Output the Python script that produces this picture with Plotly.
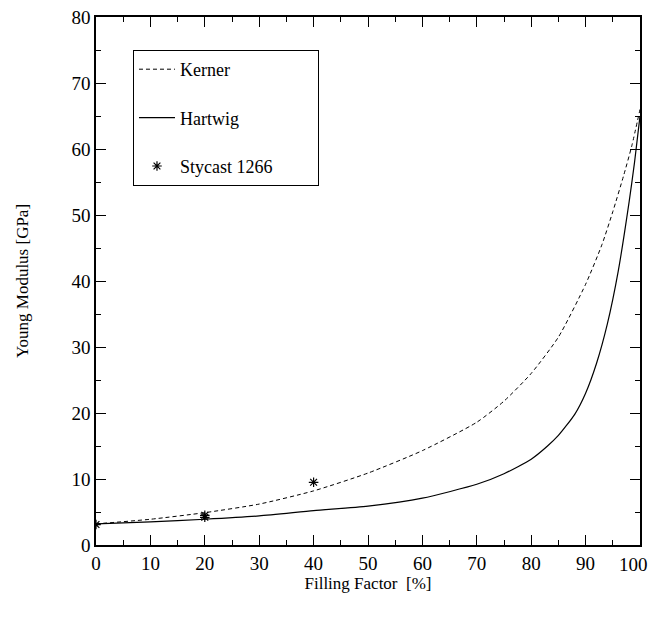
import plotly.graph_objects as go

# Kerner model curve
kerner_x = [0, 10, 20, 30, 40, 50, 60, 70, 75, 80, 85, 90, 93, 95, 97, 98.5, 100]
kerner_y = [3.2, 3.9, 4.9, 6.2, 8.2, 10.9, 14.3, 18.6, 21.8, 26.0, 31.5, 39.5, 45.5, 50.5, 56.0, 60.5, 66.0]

# Hartwig model curve
hartwig_x = [0, 10, 20, 30, 40, 50, 60, 70, 75, 80, 83, 85, 88, 90, 92, 94, 96, 98, 99, 100]
hartwig_y = [3.2, 3.5, 3.9, 4.4, 5.2, 5.9, 7.1, 9.2, 10.8, 13.0, 15.0, 16.6, 19.8, 23.0, 27.5, 33.5, 41.5, 52.0, 58.0, 65.0]

# Stycast 1266 measurements
stycast_x = [0, 20, 20, 40]
stycast_y = [3.1, 4.2, 4.5, 9.5]

x_ticks = [0, 10, 20, 30, 40, 50, 60, 70, 80, 90, 100]
y_ticks = [0, 10, 20, 30, 40, 50, 60, 70, 80]

font_family = "Liberation Serif, Times New Roman, serif"

fig = go.Figure()
fig.add_trace(go.Scatter(x=kerner_x, y=kerner_y, mode="lines", name="Kerner",
                         line=dict(color="black", width=1, dash="4px,3px", shape="spline", smoothing=0.6),
                         legendgroup="a"))
fig.add_trace(go.Scatter(x=hartwig_x, y=hartwig_y, mode="lines", name="Hartwig",
                         line=dict(color="black", width=1.2, shape="spline", smoothing=0.6),
                         legendgroup="b"))
fig.add_trace(go.Scatter(x=stycast_x, y=stycast_y, mode="markers", name="Stycast 1266" + "\u00a0" * 9,
                         marker=dict(symbol="asterisk-open", size=8, color="black",
                                     line=dict(color="black", width=1.2)),
                         legendgroup="c"))

axis_common = dict(
    showgrid=False, zeroline=False, showline=True, linecolor="black", linewidth=1.5,
    mirror="allticks", ticks="inside", ticklen=10, tickwidth=1, tickcolor="black",
    tickfont=dict(family=font_family, size=19, color="black"), automargin=False,
    ticklabeloverflow="allow",
)

# last x tick label is drawn as an annotation nudged inward so it is not clipped
x_ticktext = [str(v) for v in x_ticks[:-1]] + [""]

fig.update_xaxes(range=[0, 100], tickvals=x_ticks, ticktext=x_ticktext,
                 title=dict(text="Filling Factor  [%]", font=dict(family=font_family, size=17, color="black"), standoff=4),
                 minor=dict(ticks="inside", ticklen=5, tickcolor="black", dtick=5, showgrid=False),
                 **axis_common)
fig.update_yaxes(range=[0, 80], tickvals=y_ticks,
                 title=dict(text="Young Modulus [GPa]", font=dict(family=font_family, size=17, color="black"), standoff=39),
                 minor=dict(ticks="inside", ticklen=5, tickcolor="black", dtick=5, showgrid=False),
                 **axis_common)

fig.add_annotation(x=x_ticks[-1], xref="x", y=0, yref="paper", text=str(x_ticks[-1]),
                   showarrow=False, xanchor="center", yanchor="top", xshift=-7, yshift=-7,
                   font=dict(family=font_family, size=19, color="black"))

# page body has an 8px margin; figure is sized to fit the 656x619 window
fig.update_layout(
    width=648, height=595,
    margin=dict(l=88, r=16, t=9, b=58),
    paper_bgcolor="white", plot_bgcolor="white",
    font=dict(family=font_family, size=17, color="black"),
    showlegend=True,
    legend=dict(x=0.068, y=0.9375, xanchor="left", yanchor="top",
                bordercolor="black", borderwidth=1, bgcolor="white",
                font=dict(family=font_family, size=18, color="black"),
                traceorder="grouped", tracegroupgap=22, itemwidth=36),
)

fig.write_html("out.html")
